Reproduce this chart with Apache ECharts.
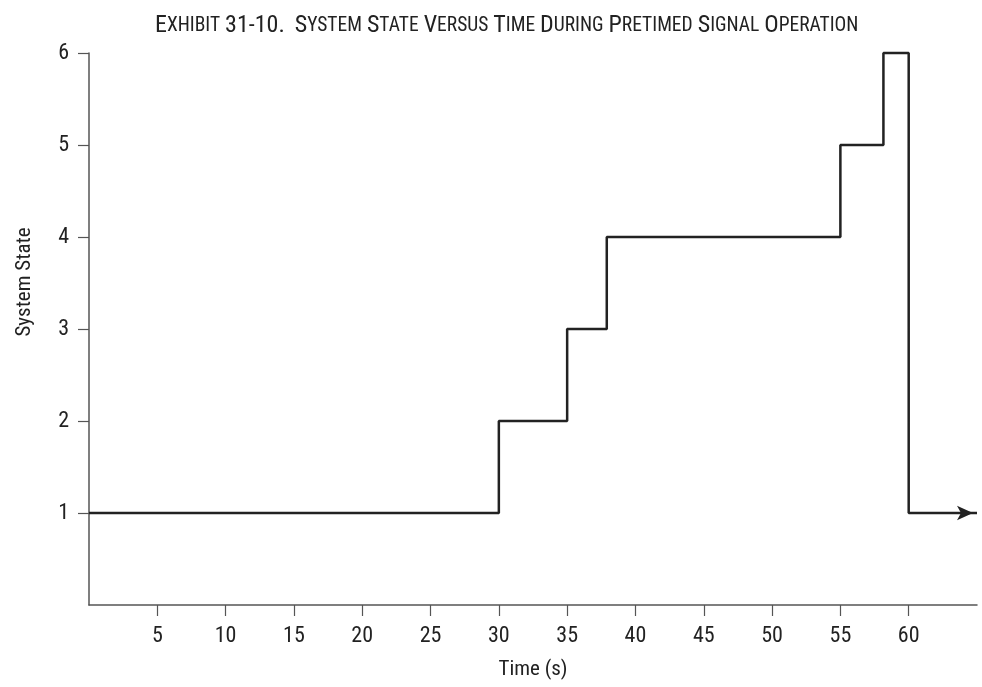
<!DOCTYPE html>
<html><head><meta charset="utf-8">
<script src="https://cdn.jsdelivr.net/npm/echarts@6/dist/echarts.min.js"></script>
<style>html,body{margin:0;padding:0;background:#fff}#c{width:982px;height:687px}</style>
</head><body><div id="c"></div>
<script>
const times  = [0, 30, 35, 37.9, 55, 58.15, 60, 65];
const states = [1, 2, 3, 4, 5, 6, 1, 1];
const xTicks = [5, 10, 15, 20, 25, 30, 35, 40, 45, 50, 55, 60];
const yTicks = [1, 2, 3, 4, 5, 6];
const titleWords = ['EXHIBIT', '31-10.', ' SYSTEM', 'STATE', 'VERSUS', 'TIME', 'DURING', 'PRETIMED', 'SIGNAL', 'OPERATION'];

const FONT = '"Roboto Condensed", "Liberation Sans Narrow", "DejaVu Sans Condensed", sans-serif';
let titleText = titleWords.map(w => {
  const lead = w.match(/^\s*/)[0];
  const rest = w.slice(lead.length);
  const first = rest[0];
  const tail = rest.slice(1);
  let s = lead + '{a|' + first + '}';
  if (tail) s += /^[0-9\-.]+$/.test(tail) ? '{a|' + tail + '}' : '{b|' + tail + '}';
  return s;
}).join(' ');

const data = times.map((t, i) => {
  if (i === times.length - 1) {
    return {value: [t, states[i]], symbol: 'arrow', symbolSize: [11, 16], symbolRotate: -90, symbolOffset: [-4, 0]};
  }
  return [t, states[i]];
});

const chart = echarts.init(document.getElementById('c'));
chart.setOption({
  animation: false,
  title: {
    text: titleText, left: 150, top: 9,
    textStyle: {
      fontWeight: 'normal',
      rich: {
        a: {fontFamily: FONT, fontSize: 24, fontWeight: 'normal', color: '#222'},
        b: {fontFamily: FONT, fontSize: 19.5, fontWeight: 'normal', color: '#222'}
      }
    }
  },
  grid: {left: 89, right: 5, top: 53, bottom: 82},
  xAxis: {
    type: 'value', min: 0, max: 65, interval: 5,
    name: 'Time (s)', nameLocation: 'middle', nameGap: 54,
    nameTextStyle: {fontFamily: FONT, fontSize: 21, color: '#222'},
    axisLine: {show: true, lineStyle: {color: '#555', width: 1.5}},
    axisTick: {show: true, length: 11, customValues: xTicks, lineStyle: {color: '#555', width: 1.2}},
    axisLabel: {customValues: xTicks, fontFamily: FONT, fontSize: 22, color: '#222', margin: 20},
    splitLine: {show: false}
  },
  yAxis: {
    type: 'value', min: 0, max: 6, interval: 1,
    name: 'System State', nameLocation: 'middle', nameGap: 54, nameRotate: 90,
    nameTextStyle: {fontFamily: FONT, fontSize: 21, color: '#222', padding: [0, 0, 0, 94]},
    axisLine: {show: true, lineStyle: {color: '#555', width: 1.5}},
    axisTick: {show: true, length: 11, customValues: yTicks, lineStyle: {color: '#555', width: 1.2}},
    axisLabel: {customValues: yTicks, fontFamily: FONT, fontSize: 22, color: '#222', margin: 20},
    splitLine: {show: false}
  },
  series: [{
    type: 'line', step: 'end', data: data, clip: false,
    symbol: 'none', showSymbol: true,
    lineStyle: {color: '#222', width: 2.5},
    itemStyle: {color: '#222'}
  }]
});
</script></body></html>
